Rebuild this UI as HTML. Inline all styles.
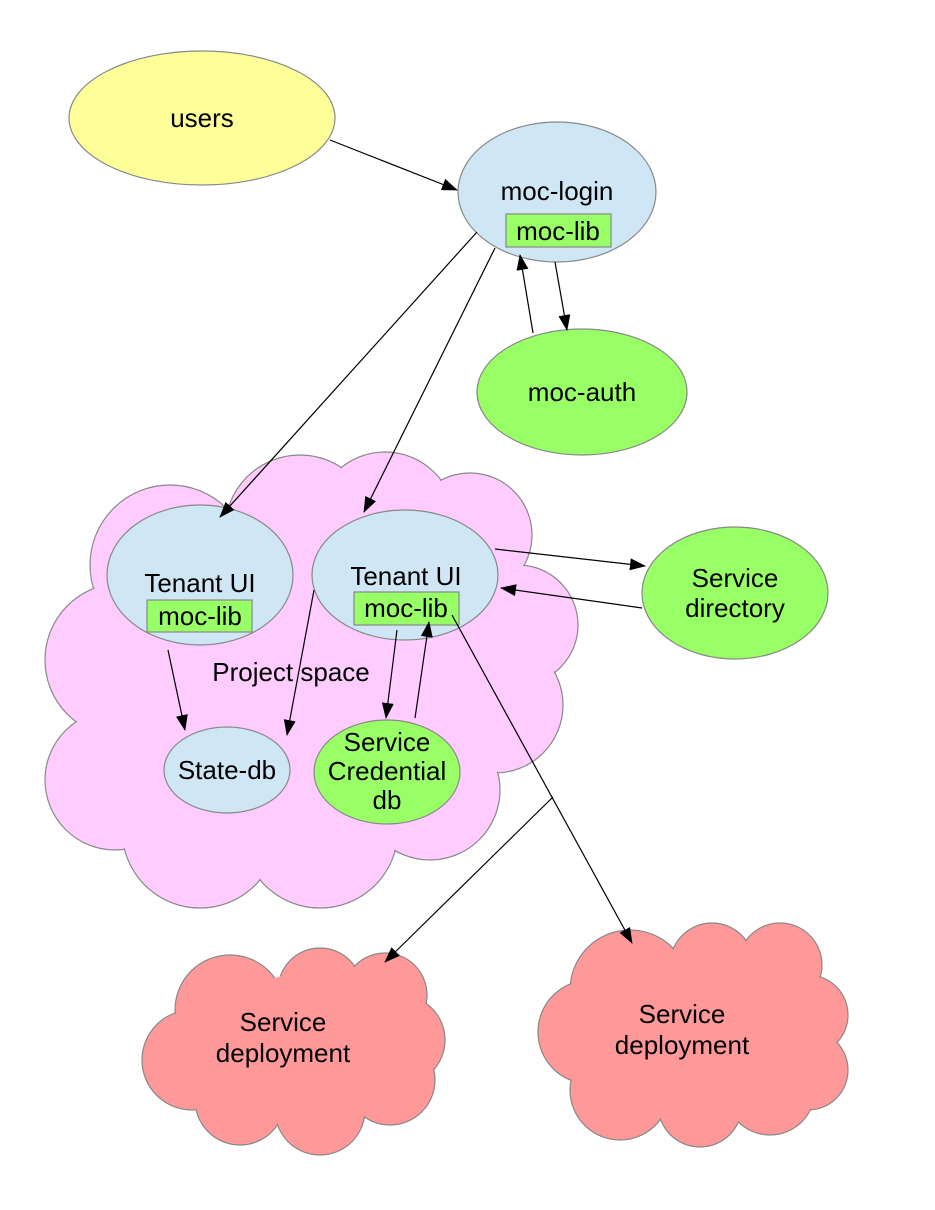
<!DOCTYPE html>
<html><head><style>html,body{margin:0;padding:0;background:#fff}svg{display:block}text{font-family:"Liberation Sans",sans-serif;fill:#000}</style></head>
<body>
<svg width="935" height="1210" viewBox="0 0 935 1210" xmlns="http://www.w3.org/2000/svg">
<defs>
<marker id="a" markerWidth="16" markerHeight="12" refX="15" refY="6" orient="auto" markerUnits="userSpaceOnUse"><path d="M0,0 L16,6 L0,12 z" fill="#000"/></marker>
</defs>
<g stroke="#888" stroke-width="1.2" fill="#ffccff">
<circle cx="170" cy="565" r="80"/><circle cx="300" cy="530" r="75"/><circle cx="385" cy="522" r="70"/><circle cx="470" cy="535" r="62"/><circle cx="518" cy="625" r="60"/><circle cx="495" cy="705" r="68"/><circle cx="122" cy="660" r="77"/><circle cx="115" cy="780" r="70"/><circle cx="200" cy="830" r="78"/><circle cx="320" cy="830" r="78"/><circle cx="430" cy="790" r="70"/>
</g>
<g fill="#ffccff">
<circle cx="170" cy="565" r="79"/><circle cx="300" cy="530" r="74"/><circle cx="385" cy="522" r="69"/><circle cx="470" cy="535" r="61"/><circle cx="518" cy="625" r="59"/><circle cx="495" cy="705" r="67"/><circle cx="122" cy="660" r="76"/><circle cx="115" cy="780" r="69"/><circle cx="200" cy="830" r="77"/><circle cx="320" cy="830" r="77"/><circle cx="430" cy="790" r="69"/><circle cx="310" cy="680" r="160"/>
</g>
<g stroke="#888" stroke-width="1.2" fill="#ff9999">
<circle cx="230" cy="1010" r="55"/><circle cx="320" cy="990" r="42"/><circle cx="385" cy="995" r="42"/><circle cx="400" cy="1040" r="45"/><circle cx="192" cy="1060" r="50"/><circle cx="240" cy="1100" r="45"/><circle cx="320" cy="1110" r="45"/><circle cx="390" cy="1080" r="45"/>
<circle cx="630" cy="990" r="60"/><circle cx="712" cy="965" r="42"/><circle cx="780" cy="965" r="42"/><circle cx="808" cy="1015" r="40"/><circle cx="808" cy="1070" r="40"/><circle cx="590" cy="1032" r="52"/><circle cx="620" cy="1090" r="50"/><circle cx="700" cy="1105" r="42"/><circle cx="770" cy="1090" r="45"/>
</g>
<g fill="#ff9999">
<circle cx="230" cy="1010" r="54"/><circle cx="320" cy="990" r="41"/><circle cx="385" cy="995" r="41"/><circle cx="400" cy="1040" r="44"/><circle cx="192" cy="1060" r="49"/><circle cx="240" cy="1100" r="44"/><circle cx="320" cy="1110" r="44"/><circle cx="390" cy="1080" r="44"/><circle cx="295" cy="1050" r="75"/>
<circle cx="630" cy="990" r="59"/><circle cx="712" cy="965" r="41"/><circle cx="780" cy="965" r="41"/><circle cx="808" cy="1015" r="39"/><circle cx="808" cy="1070" r="39"/><circle cx="590" cy="1032" r="51"/><circle cx="620" cy="1090" r="49"/><circle cx="700" cy="1105" r="41"/><circle cx="770" cy="1090" r="44"/><circle cx="700" cy="1040" r="85"/>
</g>
<g stroke="#888" stroke-width="1.2">
<ellipse cx="202" cy="118" rx="133" ry="67" fill="#ffff99"/>
<ellipse cx="557" cy="192" rx="99" ry="70" fill="#cfe7f5"/>
<ellipse cx="582" cy="392" rx="105" ry="63" fill="#99ff66"/>
<ellipse cx="200" cy="575" rx="93" ry="70" fill="#cfe7f5"/>
<ellipse cx="405" cy="575" rx="93" ry="65" fill="#cfe7f5"/>
<ellipse cx="735" cy="593" rx="93" ry="66" fill="#99ff66"/>
<ellipse cx="227" cy="770" rx="63" ry="43" fill="#cfe7f5"/>
<ellipse cx="387" cy="772" rx="73" ry="52" fill="#99ff66"/>
<rect x="506" y="214" width="105" height="33" fill="#99ff66"/>
<rect x="147" y="600" width="105" height="32" fill="#99ff66"/>
<rect x="354" y="592" width="105" height="33" fill="#99ff66"/>
</g>
<g stroke="#000" stroke-width="1.2" fill="none" marker-end="url(#a)">
<line x1="330" y1="140" x2="457" y2="190"/>
<line x1="477" y1="232" x2="220" y2="517"/>
<line x1="495" y1="248" x2="364" y2="512"/>
<line x1="555" y1="262" x2="567" y2="330"/>
<line x1="533" y1="333" x2="520" y2="255"/>
<line x1="495" y1="549" x2="645" y2="566"/>
<line x1="642" y1="608" x2="501" y2="588"/>
<line x1="168" y1="650" x2="185" y2="730"/>
<line x1="314" y1="590" x2="287" y2="735"/>
<line x1="397" y1="630" x2="386" y2="718"/>
<line x1="415" y1="718" x2="429" y2="622"/>
<line x1="452" y1="615" x2="632" y2="943"/>
<line x1="553" y1="797" x2="385" y2="962"/>
</g>
<g font-size="26" text-anchor="middle">
<text x="202" y="127">users</text>
<text x="557" y="200">moc-login</text>
<text x="558" y="240">moc-lib</text>
<text x="582" y="401">moc-auth</text>
<text x="200" y="592">Tenant UI</text>
<text x="200" y="625">moc-lib</text>
<text x="406" y="585">Tenant UI</text>
<text x="406" y="617">moc-lib</text>
<text x="735" y="587">Service</text>
<text x="735" y="617">directory</text>
<text x="291" y="681">Project space</text>
<text x="227" y="779">State-db</text>
<text x="387" y="751">Service</text>
<text x="387" y="780">Credential</text>
<text x="387" y="809">db</text>
<text x="283" y="1031">Service</text>
<text x="283" y="1062">deployment</text>
<text x="682" y="1023">Service</text>
<text x="682" y="1054">deployment</text>
</g>
</svg>
</body></html>
